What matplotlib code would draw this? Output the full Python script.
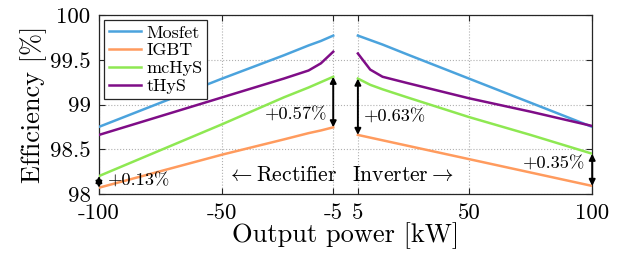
import numpy as np
import matplotlib
matplotlib.use("Agg")
import matplotlib.pyplot as plt

plt.rcParams['font.family'] = 'serif'
plt.rcParams['font.serif'] = ['cmr10']
plt.rcParams['mathtext.fontset'] = 'cm'
plt.rcParams['axes.unicode_minus'] = False
plt.rcParams['axes.formatter.use_mathtext'] = True

# operating points (kW), rectifier side and inverter side
p_rect = [-100, -50, -25, -15, -10, -5]
p_inv = [5, 10, 15, 25, 50, 75, 100]

# efficiency [%]
mosfet_rect = [98.75, 99.29, 99.55, 99.66, 99.71, 99.77]
mosfet_inv = [99.77, 99.72, 99.67, 99.56, 99.29, 99.02, 98.75]
igbt_rect = [98.07, 98.44, 98.61, 98.68, 98.71, 98.745]
igbt_inv = [98.66, 98.63, 98.60, 98.54, 98.39, 98.24, 98.09]
mchys_rect = [98.20, 98.78, 99.08, 99.19, 99.25, 99.31]
mchys_inv = [99.29, 99.22, 99.17, 99.08, 98.86, 98.66, 98.45]
thys_rect = [98.66, 99.08, 99.29, 99.38, 99.46, 99.59]
thys_inv = [99.57, 99.39, 99.31, 99.24, 99.07, 98.92, 98.76]

names = ['Mosfet', 'IGBT', 'mcHyS', 'tHyS']
colors = ['#4ba3dd', '#ff9b5e', '#8ee852', '#7f0d87']

xticks = [-100, -50, -5, 5, 50, 100]
xticklabels = ['-100', '-50', '-5', '5', '50', '100']
yticks = [98, 98.5, 99, 99.5, 100]
yticklabels = ['98', '98.5', '99', '99.5', '100']

# gain of mcHyS over IGBT at the ends
gain_labels = ['+0.13%', '+0.57%', '+0.63%', '+0.35%']

fig = plt.figure(figsize=(6.3, 2.59), dpi=100)
ax = fig.add_axes([0.157, 0.251, 0.783, 0.691])

rect = [mosfet_rect, igbt_rect, mchys_rect, thys_rect]
inv = [mosfet_inv, igbt_inv, mchys_inv, thys_inv]
for name, c, r, i in zip(names, colors, rect, inv):
    ax.plot(p_rect, r, color=c, lw=1.8, label=name, zorder=3)
    ax.plot(p_inv, i, color=c, lw=1.8, zorder=3)

# double arrows IGBT -> mcHyS
ends = [(p_rect[0], igbt_rect[0], mchys_rect[0]),
        (p_rect[-1], igbt_rect[-1], mchys_rect[-1]),
        (p_inv[0], igbt_inv[0], mchys_inv[0]),
        (p_inv[-1], igbt_inv[-1], mchys_inv[-1])]
for xe, y0, y1 in ends:
    ax.annotate('', xy=(xe, y1), xytext=(xe, y0),
                arrowprops=dict(arrowstyle='<|-|>', color='k', lw=1.4,
                                shrinkA=0, shrinkB=0, mutation_scale=9),
                annotation_clip=False, zorder=4)

ax.text(-96.5, 98.14, gain_labels[0], fontsize=13.3, ha='left', va='center')
ax.text(-7.5, 98.88, gain_labels[1], fontsize=13.3, ha='right', va='center')
ax.text(7.5, 98.86, gain_labels[2], fontsize=13.3, ha='left', va='center')
ax.text(97, 98.33, gain_labels[3], fontsize=13.3, ha='right', va='center')

ax.text(-3.3, 98.21, r'$\leftarrow$Rectifier', fontsize=15.5, ha='right', va='center')
ax.text(2.5, 98.21, r'Inverter$\rightarrow$', fontsize=15.5, ha='left', va='center')

ax.set_xlim(-100, 100)
ax.set_ylim(98, 100)
ax.set_xticks(xticks)
ax.set_xticklabels(xticklabels)
ax.set_yticks(yticks)
ax.set_yticklabels(yticklabels)
ax.tick_params(direction='in', top=True, right=True, length=4, width=0.8,
               labelsize=16.5, color='#262626')
ax.tick_params(axis='x', pad=7)
ax.tick_params(axis='y', pad=6)
ax.grid(True, ls=':', color='#b0b0b0', lw=0.8)
for s in ax.spines.values():
    s.set_color('#262626')
    s.set_linewidth(0.9)

ax.set_xlabel('Output power [kW]', fontsize=19, labelpad=-1)
ax.set_ylabel('Efficiency [%]', fontsize=19, labelpad=2)

leg = ax.legend(loc='upper left', fontsize=13, fancybox=False, framealpha=1,
                edgecolor='#262626', handlelength=1.8, borderpad=0.25,
                labelspacing=0.12, handletextpad=0.3, borderaxespad=0.3)
leg.get_frame().set_linewidth(0.9)

fig.savefig('out.png', dpi=100)
